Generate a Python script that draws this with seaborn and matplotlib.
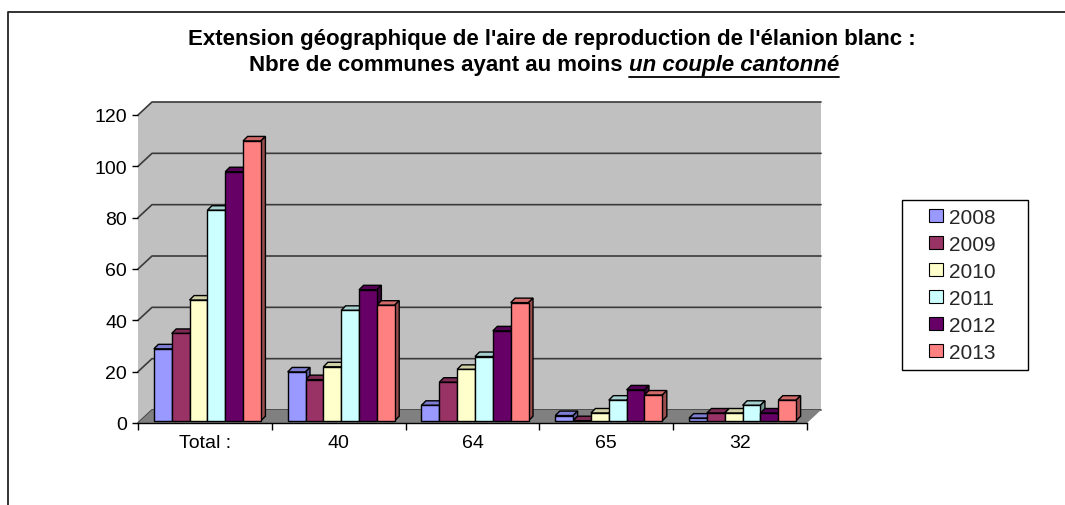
import numpy as np
import pandas as pd
import matplotlib.pyplot as plt
import seaborn as sns
from matplotlib.patches import Polygon, Rectangle
from matplotlib.lines import Line2D
from matplotlib.colors import to_rgb

categories = ["Total :", "40", "64", "65", "32"]
years = ["2008", "2009", "2010", "2011", "2012", "2013"]
v2008 = [28, 19, 6, 2, 1]
v2009 = [34, 16, 15, 0, 3]
v2010 = [47, 21, 20, 3, 3]
v2011 = [82, 43, 25, 8, 6]
v2012 = [97, 51, 35, 12, 3]
v2013 = [109, 45, 46, 10, 8]
colors = ["#9999FF", "#993366", "#FFFFCC", "#CCFFFF", "#660066", "#FF8080"]
yticks = [0, 20, 40, 60, 80, 100, 120]

title1 = "Extension géographique de l'aire de reproduction de l'élanion blanc :"
title2a = "Nbre de communes ayant au moins "
title2b = "un couple cantonné"

W, H = 1065, 506
sns.set_theme(style="white")
plt.rcParams["font.family"] = ["Liberation Sans", "DejaVu Sans"]

df = pd.DataFrame({
    "commune": categories * len(years),
    "annee": np.repeat(years, len(categories)),
    "n": v2008 + v2009 + v2010 + v2011 + v2012 + v2013,
})

fig = plt.figure(figsize=(W / 100, H / 100), dpi=100)
ax_w, ax_h = 669, 308
ax = fig.add_axes([138 / W, 1 - 424 / H, ax_w / W, ax_h / H])
ax.set_facecolor("none")

sns.barplot(data=df, x="commune", y="n", hue="annee", palette=colors,
            saturation=1, width=0.8, edgecolor="black", linewidth=1,
            legend=False, ax=ax, zorder=3)

ax.set_xlim(-0.5, 4.5)
ax.set_ylim(0, 120)

# pixel -> data conversion for the fake 3D depth
px_x = 5 / ax_w
px_y = 120 / ax_h
dx, dy = 14 * px_x, 13 * px_y      # depth of the walls / floor
bdx, bdy = 4.5 * px_x, 4.5 * px_y  # depth of a bar
ox, oy = 2.5 * px_x, 2.3 * px_y    # bars sit a little behind the front edge

# walls and floor
ax.add_patch(Rectangle((-0.5 + dx, dy), 5, 120, fc="#C0C0C0", ec="none",
                       zorder=0, clip_on=False))
ax.add_patch(Polygon([(-0.5, 0), (-0.5 + dx, dy), (-0.5 + dx, 120 + dy), (-0.5, 120)],
                     fc="#C0C0C0", ec="none", zorder=0, clip_on=False))
for t in yticks:
    ax.plot([-0.5, -0.5 + dx, 4.5 + dx], [t, t + dy, t + dy], color="#3a3a3a",
            lw=1.2, zorder=0.5, clip_on=False)
ax.add_patch(Polygon([(-0.5, 0), (4.5, 0), (4.5 + dx, dy), (-0.5 + dx, dy)],
                     fc="#808080", ec="none", zorder=1, clip_on=False))


def shade(c, f):
    return tuple(v * f for v in to_rgb(c))


# move the front faces back a bit, then add tops and sides
for cont, c in zip(ax.containers, colors):
    for p in cont.patches:
        p.set_x(p.get_x() + ox)
        p.set_y(p.get_y() + oy)
        x, y0, w, h = p.get_x(), p.get_y(), p.get_width(), p.get_height()
        y1 = y0 + h
        top = [(x, y1), (x + w, y1), (x + w + bdx, y1 + bdy), (x + bdx, y1 + bdy)]
        side = [(x + w, y0), (x + w, y1), (x + w + bdx, y1 + bdy), (x + w + bdx, y0 + bdy)]
        ax.add_patch(Polygon(top, fc=shade(c, 0.82), ec="black", lw=1, zorder=2.5, clip_on=False))
        ax.add_patch(Polygon(side, fc=shade(c, 0.6), ec="black", lw=1, zorder=2.5, clip_on=False))

for s in ["top", "right", "left"]:
    ax.spines[s].set_visible(False)
ax.spines["bottom"].set_color("black")
ax.spines["bottom"].set_linewidth(1)
ax.spines["bottom"].set_zorder(4)

ax.set_yticks(yticks)
ax.set_xticks(np.arange(-0.5, 5, 1), minor=True)
ax.tick_params(axis="y", left=True, length=4, width=1, color="black", pad=4,
               labelsize=14, labelcolor="black")
ax.tick_params(axis="x", which="major", bottom=False, length=0, pad=8,
               labelsize=14, labelcolor="black")
ax.tick_params(axis="x", which="minor", bottom=True, length=5, width=1, color="black")
ax.set_xlabel("")
ax.set_ylabel("")
ax.grid(False)

# legend: own frame, entries placed inside it
fig.add_artist(Rectangle((902 / W, 1 - 371 / H), 126 / W, 170 / H,
                         transform=fig.transFigure, fc="white", ec="black", lw=1))
handles = [Rectangle((0, 0), 1, 1, fc=c, ec="black", lw=0.8) for c in colors]
leg = fig.legend(handles, years, loc="upper left", bbox_to_anchor=(929 / W, 1 - 209 / H),
                 bbox_transform=fig.transFigure, frameon=False, fontsize=15,
                 handlelength=0.67, handleheight=0.58, handletextpad=0.29,
                 labelspacing=0.38, borderpad=0, borderaxespad=0)

# title
cx = 552
fs_t = 16
fig.text(cx / W, 1 - 39 / H, title1, ha="center", va="center", fontsize=fs_t,
         fontweight="bold", color="black")
ta = fig.text(0, 1 - 66 / H, title2a, ha="left", va="center", fontsize=fs_t,
              fontweight="bold", color="black")
tb = fig.text(0, 1 - 66 / H, title2b, ha="left", va="center", fontsize=fs_t,
              fontweight="bold", fontstyle="italic", color="black")
fig.canvas.draw()
r = fig.canvas.get_renderer()
wa = ta.get_window_extent(r).width
wb = tb.get_window_extent(r).width
x0 = cx - 8 - (wa + wb) / 2
ta.set_x(x0 / W)
tb.set_x((x0 + wa) / W)
fig.add_artist(Line2D([(x0 + wa) / W, (x0 + wa + wb) / W], [1 - 78 / H, 1 - 78 / H],
                      transform=fig.transFigure, color="black", lw=1.3))

# chart border (cut at right and bottom)
fig.add_artist(Line2D([8 / W, 8 / W, 1], [0, 1 - 13 / H, 1 - 13 / H],
                      transform=fig.transFigure, color="#222222", lw=1.3))

fig.savefig("out.png", dpi=100)
